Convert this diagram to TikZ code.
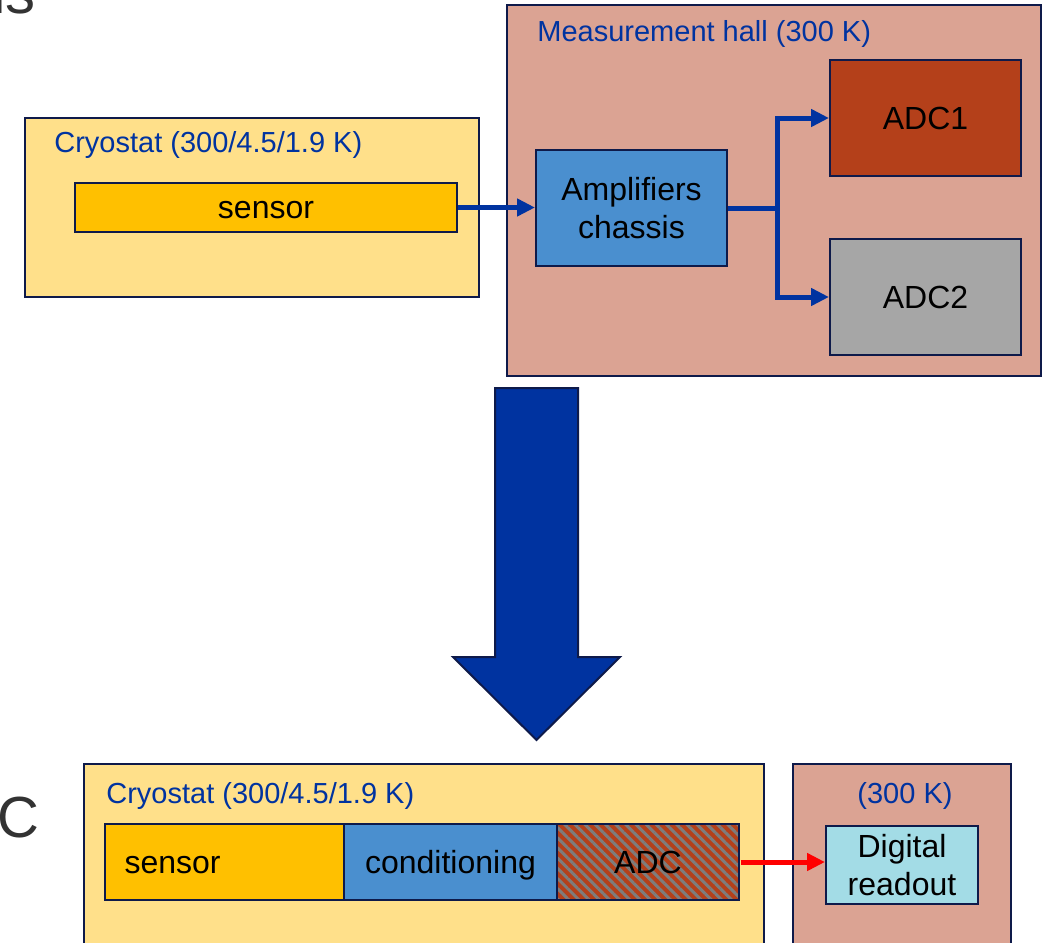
\documentclass[tikz,border=0pt]{standalone}
\usepackage{fontspec}
\setmainfont{Liberation Sans}
\usetikzlibrary{arrows.meta,patterns.meta}
\definecolor{edge}{RGB}{14,26,74}
\definecolor{cryofill}{RGB}{255,224,138}
\definecolor{hallfill}{RGB}{219,163,147}
\definecolor{sensorfill}{RGB}{255,192,0}
\definecolor{ampfill}{RGB}{74,143,207}
\definecolor{adconefill}{RGB}{180,64,26}
\definecolor{adctwofill}{RGB}{166,166,166}
\definecolor{readfill}{RGB}{163,220,230}
\definecolor{hatchgray}{RGB}{125,125,125}
\definecolor{labelblue}{RGB}{0,51,160}
\definecolor{cuttext}{RGB}{51,51,51}
\tikzset{
  zone/.style={draw=edge, line width=1pt, inner sep=0pt},
  box/.style={draw=edge, line width=1pt, inner sep=0pt, align=center,
    font=\fontsize{16}{19}\selectfont},
  oneline/.style={text height=14.5pt, text depth=3.4pt},
  zonelabel/.style={text=labelblue, inner sep=0pt,
    font=\fontsize{14.5}{17}\selectfont},
  link/.style={draw=labelblue, line width=2.5pt},
  linkarrow/.style={link, -{Triangle[length=9pt,width=8.5pt]}},
}
\begin{document}
\begin{tikzpicture}[x=0.5pt,y=-0.5pt]
  \useasboundingbox (0,0) rectangle (1043,942);
  \node[text=cuttext, inner sep=0pt, anchor=base east,
    font=\fontsize{30}{36}\selectfont] (cuttop) at (36,13) {ns};
  \node[text=cuttext, inner sep=0pt, anchor=base east,
    font=\fontsize{29}{35}\selectfont] (cutbottom) at (40,837) {C};
  \node[zone, fill=cryofill, minimum width=227pt, minimum height=89.5pt] (cryoA) at (252,207.5) {};
  \node[zone, fill=hallfill, minimum width=267pt, minimum height=185.5pt] (hall) at (774,190.5) {};
  \node[zonelabel, anchor=base west] (cryoAlabel) at (54,152) {Cryostat (300/4.5/1.9 K)};
  \node[zonelabel, anchor=base west] (halllabel) at (537,41) {Measurement hall (300 K)};
  \node[box, oneline, fill=sensorfill, minimum width=191pt, minimum height=24.5pt] (sensorA) at (266,207.5) {sensor};
  \node[box, fill=ampfill, minimum width=95.5pt, minimum height=58pt] (amp) at (631.5,208) {Amplifiers\\chassis};
  \node[box, oneline, fill=adconefill, minimum width=95.5pt, minimum height=58pt] (adcone) at (925.5,118) {ADC1};
  \node[box, oneline, fill=adctwofill, minimum width=95.5pt, minimum height=58pt] (adctwo) at (925.5,297) {ADC2};
  \coordinate (branch) at (777,208);
  \draw[fill=labelblue, draw=edge, line width=1pt, line join=miter]
    (495,388) -- (578,388) -- (578,657) -- (620,657) -- (536.5,740)
    -- (453,657) -- (495,657) -- cycle;
  \node[zone, fill=cryofill, minimum width=340pt, minimum height=98pt] (cryoB) at (424,862) {};
  \node[zone, fill=hallfill, minimum width=109pt, minimum height=98pt] (room) at (902,862) {};
  \node[zonelabel, anchor=base west] (cryoBlabel) at (106,803) {Cryostat (300/4.5/1.9 K)};
  \node[zonelabel, anchor=base] (roomlabel) at (905,803) {(300 K)};
  \node[box, oneline, fill=sensorfill, minimum width=119.5pt, minimum height=38pt,
    text width=100pt, inner xsep=9.75pt, align=left] (sensorB) at (224.5,862) {sensor};
  \node[box, oneline, fill=ampfill, minimum width=106.5pt, minimum height=38pt] (cond) at (450.5,862) {conditioning};
  \node[box, oneline, preaction={fill=adconefill},
    pattern={Lines[angle=-45,distance=3.6pt,line width=1.5pt]}, pattern color=hatchgray,
    minimum width=91pt, minimum height=38pt] (adcB) at (648,862) {ADC};
  \node[box, fill=readfill, minimum width=76pt, minimum height=39pt] (readout) at (902,865) {Digital\\readout};
  \begin{scope}
    \draw[linkarrow] (sensorA.east) -- (amp.west |- sensorA.east);
    \draw[link] (amp.east) -- (branch);
    \draw[linkarrow] (branch) |- (adcone.west);
    \draw[linkarrow] (branch) |- (adctwo.west);
    \draw[linkarrow, draw=red] (adcB.east) -- (readout.west |- adcB.east);
  \end{scope}
\end{tikzpicture}
\end{document}
